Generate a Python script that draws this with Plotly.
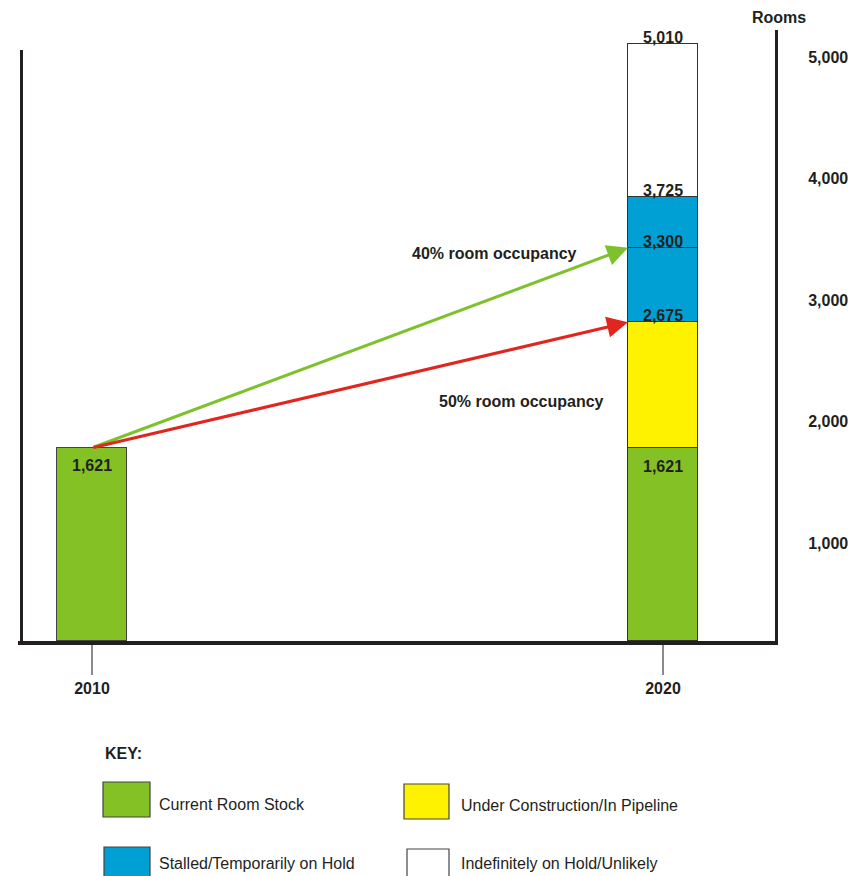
import plotly.graph_objects as go

# ---- data -------------------------------------------------------------
years = ["2010", "2020"]
current_stock = [1621, 1621]                 # existing rooms per year
levels_2020 = [1621, 2675, 3300, 3725, 5010]  # cumulative room levels for 2020
segment_names = [
    "Current Room Stock",
    "Under Construction/In Pipeline",
    "Stalled/Temporarily on Hold",
    "Stalled/Temporarily on Hold",
    "Indefinitely on Hold/Unlikely",
]
occupancy_labels = ["40% room occupancy", "50% room occupancy"]
occupancy_targets = [3300, 2675]
right_ticks = [1000, 2000, 3000, 4000, 5000]

# ---- styling ----------------------------------------------------------
GREEN = "#84C125"
YELLOW = "#FFF200"
BLUE = "#00A0D4"
WHITE = "#FFFFFF"
INK = "#231F20"
FONT = "Liberation Sans"
FS = 16
seg_colors = [GREEN, YELLOW, BLUE, BLUE, WHITE]

W, H = 853, 876
L, R, T, B = 20, 776, 30, 641  # plot area in pixels
BAR_W = 70 / 571.0


def px(x):
    return (x - L) / (R - L)


def py(y):
    return (B - y) / (B - T)


fig = go.Figure()

# 2010 bar: current stock only
fig.add_trace(go.Bar(
    x=[years[0]], y=[current_stock[0]], width=BAR_W,
    marker=dict(color=GREEN, line=dict(color="#444444", width=1)),
    showlegend=False, hoverinfo="skip",
))

# 2020 stacked segments built from the cumulative levels
prev = 0
for name, level, col in zip(segment_names, levels_2020, seg_colors):
    fig.add_trace(go.Bar(
        x=[years[1]], y=[level - prev], width=BAR_W, name=name,
        marker=dict(color=col, line=dict(color="#333333", width=1.2)),
        showlegend=False, hoverinfo="skip",
    ))
    prev = level

# hidden trace to activate the right-hand axis
fig.add_trace(go.Scatter(x=[years[0]], y=[right_ticks[0]], yaxis="y2",
                         mode="markers", marker=dict(opacity=0),
                         showlegend=False, hoverinfo="skip"))

annotations = []
bold = dict(family=FONT, size=FS, color=INK, weight="bold")

# value labels
annotations.append(dict(x=0, y=current_stock[0], xref="x", yref="y", text="1,621",
                        showarrow=False, yanchor="top", yshift=-7, font=bold))
annotations.append(dict(x=1, y=levels_2020[0], xref="x", yref="y", text=f"{levels_2020[0]:,}",
                        showarrow=False, yanchor="top", yshift=-8, font=bold))
for lv in levels_2020[1:]:
    annotations.append(dict(x=1, y=lv, xref="x", yref="y", text=f"{lv:,}",
                            showarrow=False, yanchor="bottom", yshift=-4, font=bold))

# occupancy arrows from the 2010 stock to the 2020 levels
arrow_cols = ["#7DC12B", "#E0261E"]
for tgt, col in zip(occupancy_targets, arrow_cols):
    annotations.append(dict(
        x=1 - BAR_W / 2, y=tgt, xref="x", yref="y",
        ax=0, ay=current_stock[0], axref="x", ayref="y",
        showarrow=True, arrowhead=2, arrowsize=1.4, arrowwidth=3,
        arrowcolor=col, standoff=0, startstandoff=0, text="",
    ))


def paper_text(x, y, text, font, xanchor="center"):
    return dict(x=px(x), y=py(y), xref="paper", yref="paper", text=text,
                showarrow=False, font=font, xanchor=xanchor, yanchor="middle")


annotations.append(paper_text(495, 253, occupancy_labels[0], bold))
annotations.append(paper_text(521, 402, occupancy_labels[1], bold))

# axis title on the right
annotations.append(paper_text(779, 18, "Rooms", bold))

# key
annotations.append(paper_text(103, 753, "KEY:", bold, xanchor="left"))
reg = dict(family=FONT, size=FS, color=INK)
key_items = [
    (GREEN, segment_names[0], 103, 782, 150, 817, 157, 804),
    (YELLOW, segment_names[1], 404, 784, 449, 819, 459, 805),
    (BLUE, segment_names[2], 104, 847, 150, 882, 157, 863),
    (WHITE, segment_names[4], 407, 849, 449, 884, 459, 864),
]
shapes = []
for col, label, x0, y0, x1, y1, tx, ty in key_items:
    shapes.append(dict(type="rect", xref="paper", yref="paper",
                       x0=px(x0), x1=px(x1), y0=py(y1), y1=py(y0),
                       fillcolor=col, line=dict(color="#444444", width=1.2)))
    annotations.append(paper_text(tx, ty, label, reg, xanchor="left"))

# frame lines
line = dict(color=INK, width=3)
shapes += [
    dict(type="line", xref="paper", yref="paper", x0=px(21.5), x1=px(21.5),
         y0=py(643), y1=py(50), line=line),
    dict(type="line", xref="paper", yref="paper", x0=px(18), x1=px(778),
         y0=py(643), y1=py(643), line=dict(color=INK, width=4)),
    dict(type="line", xref="paper", yref="paper", x0=px(776.5), x1=px(776.5),
         y0=py(645), y1=py(30), line=line),
]

# ranges: 0 at the plot bottom, 5,010 at the top of the 2020 bar
y_px_per_unit = 597 / 5010
y_top = (B - T) / y_px_per_unit
# right scale labels
r_px = 486 / 4000
zero_r = 664.5
y2_range = [(zero_r - B) / r_px, (zero_r - T) / r_px]

fig.update_layout(
    width=W, height=H,
    margin=dict(l=L, r=W - R, t=T, b=H - B, autoexpand=False),
    paper_bgcolor="white", plot_bgcolor="white",
    barmode="stack", bargap=0,
    xaxis=dict(type="category", range=[-72 / 571, (R - L - 72) / 571],
               automargin=False,
               showgrid=False, zeroline=False, showline=False,
               ticks="outside", ticklen=33, tickwidth=1.5, tickcolor="#8A8A8A",
               tickfont=dict(family=FONT, size=FS, color=INK, weight="bold")),
    yaxis=dict(range=[0, y_top], showgrid=False, zeroline=False, automargin=False,
               showline=False, showticklabels=False, ticks=""),
    yaxis2=dict(overlaying="y", side="right", range=y2_range, automargin=False,
                tickvals=right_ticks, tickformat=",",
                showgrid=False, zeroline=False, showline=False,
                ticks="outside", ticklen=28, tickcolor="rgba(0,0,0,0)",
                tickfont=dict(family=FONT, size=FS, color=INK, weight="bold")),
    annotations=annotations, shapes=shapes,
    font=dict(family=FONT, color=INK),
)

fig.write_html("out.html")
